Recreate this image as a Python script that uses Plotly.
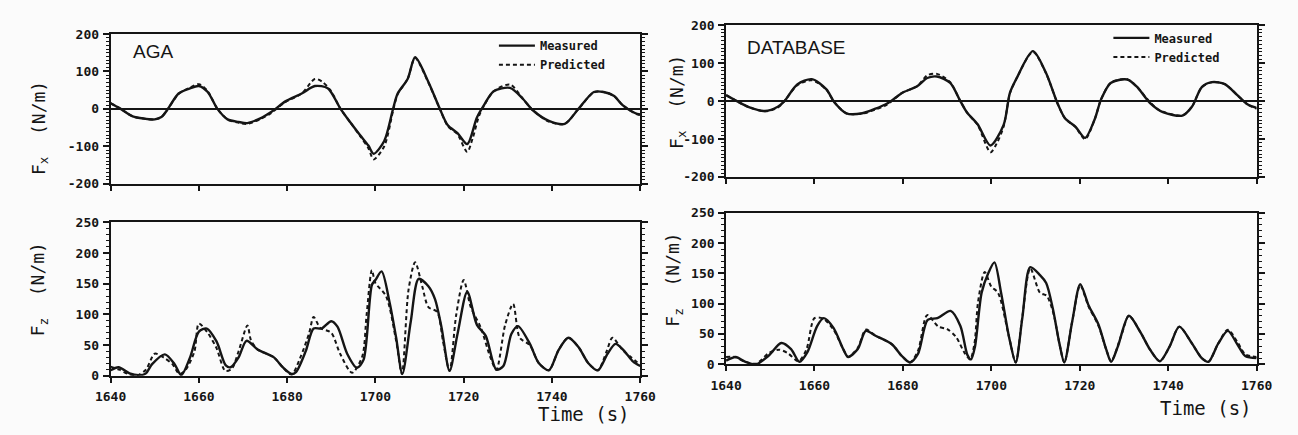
import plotly.graph_objects as go

# ---------------- data ----------------
# AGA, Fx
aga_fx_meas_t = [1640, 1642, 1645, 1647.5, 1650, 1651.5, 1653, 1655.4, 1658, 1660, 1662, 1664.2, 1666.5, 1669, 1671,
                 1673.8, 1676.8, 1679.6, 1683.3, 1686.3, 1689.2, 1692.1, 1694.3, 1696.5, 1698.4, 1699.6, 1702, 1704,
                 1705, 1707.3, 1709, 1712, 1714.6, 1716.4, 1718.6, 1720.8, 1723, 1724.6, 1726.8, 1730.5, 1733.4,
                 1735.6, 1739.3, 1742.9, 1746, 1749.5, 1751.7, 1754, 1756, 1758.8, 1760]
aga_fx_meas = [15, 2, -20, -26, -28, -22, 0, 41, 55, 61, 45, 0, -28, -35, -38,
               -26, -5, 20, 41, 61, 55, 0, -36, -70, -98, -120, -86, 0,
               40, 80, 138, 72, 0, -44, -65, -94, -23, 10, 47, 56, 27,
               -3, -32, -40, 0, 45, 45, 35, 10, -11, -15]
aga_fx_pred_t = [1640, 1642, 1645, 1647.5, 1650, 1651.5, 1653, 1655.4, 1658, 1660, 1662, 1664.2, 1666.5, 1669, 1671,
                 1673.8, 1676, 1679.6, 1683.3, 1686.3, 1688, 1689.8, 1692.1, 1694.3, 1696.5, 1698.4, 1699.6, 1702,
                 1704, 1705, 1707.3, 1709, 1712, 1714.6, 1716.4, 1718.6, 1720.8, 1722, 1723.5, 1724.6, 1726.8,
                 1730.5, 1733.4, 1735.6, 1739.3, 1742.9, 1746, 1749.5, 1751.7, 1754, 1756, 1758.8, 1760]
aga_fx_pred = [15, 2, -20, -26, -28, -22, 0, 40, 57, 66, 47, 0, -28, -37, -40,
               -28, -14, 18, 41, 80, 72, 50, 0, -36, -72, -105, -135, -100,
               -5, 38, 80, 136, 70, 0, -46, -68, -115, -80, -18, 8, 47,
               65, 27, -3, -34, -40, 0, 44, 45, 35, 10, -12, -17]

# AGA, Fz
aga_fz_meas_t = [1640, 1641.8, 1644.3, 1646.5, 1648, 1649.4, 1652.3, 1654.5, 1656, 1658, 1660, 1661.8, 1664, 1666.1,
                 1667.2, 1669, 1670.8, 1673.3, 1677, 1679, 1681, 1682, 1684.2, 1686, 1687.8, 1690, 1691.4, 1693.6,
                 1695.8, 1697.3, 1699.2, 1700, 1701.4, 1703.2, 1704.7, 1706.1, 1708, 1709.8, 1712, 1713.5, 1715,
                 1716.8, 1718.6, 1720.8, 1723, 1725, 1727.4, 1729, 1730.8, 1732.3, 1735, 1737, 1739.3, 1741.5,
                 1743.7, 1746, 1748.2, 1750.4, 1752.6, 1754.4, 1756.2, 1758.4, 1760]
aga_fz_meas = [9, 14, 4, 1, 4, 19, 35, 19, 1, 30, 72, 77, 56, 17,
               14, 30, 57, 43, 30, 14, 3, 6, 40, 77, 77, 89, 80, 36,
               13, 26, 148, 156, 170, 120, 62, 3, 88, 158, 146, 125, 78,
               8, 68, 137, 83, 65, 10, 16, 68, 81, 52, 21, 9, 42,
               62, 47, 21, 9, 36, 52, 42, 23, 16]
aga_fz_pred_t = [1640, 1642, 1644, 1646, 1648, 1650, 1652, 1654, 1655.6, 1657, 1659, 1660, 1662, 1664, 1666,
                 1667.5, 1669, 1671, 1671.8, 1673.3, 1677, 1679, 1681, 1683, 1685, 1686, 1687.5, 1690, 1692,
                 1694.7, 1697, 1698, 1699.2, 1700, 1702.4, 1704.7, 1706, 1707.5, 1709, 1710.6, 1712, 1714,
                 1715.3, 1716.8, 1718.3, 1720, 1721.6, 1723.9, 1726, 1727.4, 1729.4, 1731.2, 1732.7, 1735, 1737,
                 1739.3, 1741.5, 1743.7, 1746, 1748.2, 1750.4, 1752.4, 1753.7, 1756, 1758, 1760]
aga_fz_pred = [15, 10, 3, 1, 10, 36, 30, 19, 3, 10, 40, 85, 70, 45, 8,
               12, 40, 82, 58, 43, 30, 14, 2, 30, 70, 96, 78, 70, 36,
               5, 31, 99, 172, 151, 130, 57, 3, 140, 185, 146, 112, 104,
               57, 8, 99, 156, 112, 78, 31, 10, 83, 117, 62, 50, 21,
               9, 42, 62, 47, 21, 9, 40, 62, 42, 30, 18]

# DATABASE, Fx
db_fx_meas_t = [1640, 1642.9, 1645, 1648.8, 1651.7, 1653.2, 1656.1, 1659.4, 1662.7, 1664.5, 1667.2, 1670.8, 1673.8,
                1676, 1677.5, 1679.7, 1683.3, 1685.5, 1687.7, 1690.7, 1692.9, 1694.5, 1696.9, 1699.8, 1702.8,
                1704.2, 1705.7, 1709.4, 1712.3, 1714.9, 1716.7, 1719, 1721.2, 1723.4, 1724.8, 1727, 1730.7,
                1732.9, 1735.9, 1738.8, 1743.2, 1745.4, 1747.6, 1749.9, 1752.8, 1755.7, 1758, 1760]
db_fx_meas = [16, -3, -15, -26, -15, 0, 44, 58, 31, -3, -32, -32, -20,
              -9, 2, 21, 40, 61, 65, 48, 2, -30, -61, -117, -62,
              22, 60, 132, 76, -4, -46, -67, -97, -47, 4, 48, 57,
              38, -5, -29, -38, -14, 37, 50, 45, 15, -9, -18]
db_fx_pred_t = [1640, 1642.9, 1645, 1648.8, 1651.7, 1653.2, 1656.1, 1659.4, 1662.7, 1664.5, 1667.2, 1670.8, 1673.8,
                1676, 1677.5, 1679.7, 1683.3, 1685.5, 1687.7, 1690.7, 1692.9, 1694.5, 1696.9, 1699.8, 1701.2,
                1702.8, 1704.2, 1705.7, 1709.4, 1712.3, 1714.9, 1716.7, 1719, 1721.2, 1723.4, 1724.8, 1727,
                1730.7, 1732.9, 1735.9, 1737.5, 1738.8, 1743.2, 1745.4, 1747.6, 1749.9, 1752.8, 1755.7, 1758, 1760]
db_fx_pred = [16, -3, -15, -27, -17, 0, 42, 55, 30, -3, -32, -33, -22,
              -12, 0, 21, 40, 68, 72, 50, 2, -30, -63, -135, -112,
              -66, 20, 60, 130, 75, -4, -46, -68, -100, -47, 4, 48,
              58, 38, -3, -20, -28, -38, -14, 37, 50, 45, 15, -9, -20]

# DATABASE, Fz
db_fz_meas_t = [1640, 1642.2, 1644.4, 1646.8, 1649.6, 1652.5, 1654.7, 1656.6, 1658.4, 1660.6, 1662.1, 1664.3, 1666.5,
                1667.6, 1669.8, 1671.6, 1673.8, 1677.5, 1679.7, 1681.6, 1683.4, 1685.6, 1687.8, 1690.8, 1693,
                1694.6, 1695.4, 1696.3, 1697.8, 1699.3, 1700.7, 1702.2, 1704, 1705.5, 1707, 1708.8, 1711, 1712.4,
                1713.9, 1715.4, 1716.5, 1718.3, 1720.1, 1722, 1724.2, 1726, 1727.1, 1728.6, 1731.1, 1733.7,
                1735.9, 1738.1, 1740.3, 1742.5, 1745.4, 1747.6, 1749.1, 1751.3, 1753.5, 1755.7, 1757.5, 1760]
db_fz_meas = [6, 12, 4, 0, 14, 35, 25, 4, 20, 63, 76, 60, 25,
              12, 25, 55, 47, 33, 14, 3, 17, 73, 76, 88, 63,
              15, 8, 29, 118, 150, 168, 118, 45, 3, 76, 160, 147, 134,
              92, 34, 3, 71, 132, 97, 66, 24, 4, 29, 80, 53,
              24, 5, 29, 62, 34, 10, 4, 34, 55, 32, 13, 10]
db_fz_pred_t = [1640, 1642, 1644, 1646.8, 1649.6, 1652, 1654, 1656.4, 1658.2, 1660, 1662, 1664.3, 1666.5,
                1667.6, 1669.8, 1671.6, 1673.8, 1677.5, 1679.7, 1681.6, 1683.4, 1685.5, 1688, 1690, 1692,
                1694, 1695.2, 1696.2, 1697, 1698.5, 1700, 1701.5, 1704, 1705.5, 1707, 1708.8, 1711, 1712.5,
                1714, 1715.4, 1716.5, 1718.3, 1720.1, 1722, 1724.2, 1726, 1727.1, 1729.5, 1731.1, 1733.7,
                1735.9, 1738.1, 1740.3, 1742.5, 1745.4, 1747.6, 1749.1, 1751.3, 1753.5, 1755.7, 1757.5, 1760]
db_fz_pred = [12, 12, 5, 1, 18, 24, 18, 5, 25, 76, 75, 57, 25,
              12, 27, 57, 47, 33, 14, 3, 22, 81, 62, 58, 45,
              18, 8, 35, 103, 152, 128, 118, 45, 3, 78, 158, 118, 113,
              85, 34, 3, 71, 130, 95, 64, 24, 5, 50, 80, 53,
              24, 5, 29, 62, 34, 10, 4, 34, 57, 36, 16, 12]

time_ticks = [1640, 1660, 1680, 1700, 1720, 1740, 1760]
time_labels = ["1640", "1660", "1680", "1700", "1720", "1740", "1760"]
fx_ticks = [-200, -100, 0, 100, 200]
fx_labels = ["-200", "-100", "0", "100", "200"]
fz_ticks = [0, 50, 100, 150, 200, 250]
fz_labels = ["0", "50", "100", "150", "200", "250"]
panel_names = ["AGA", "DATABASE"]
series_names = ["Measured", "Predicted"]

# ---------------- figure ----------------
W, H = 1298, 435
INK = "#151515"
MONO = "DejaVu Sans Mono"

def px(x):
    return x / W

def py(y):
    return 1 - y / H

fig = go.Figure()

panels = [
    ("x", "y", aga_fx_meas_t, aga_fx_meas, aga_fx_pred_t, aga_fx_pred, "legend"),
    ("x2", "y2", aga_fz_meas_t, aga_fz_meas, aga_fz_pred_t, aga_fz_pred, None),
    ("x3", "y3", db_fx_meas_t, db_fx_meas, db_fx_pred_t, db_fx_pred, "legend2"),
    ("x4", "y4", db_fz_meas_t, db_fz_meas, db_fz_pred_t, db_fz_pred, None),
]
for xa, ya, mt, mv, pt, pv, leg in panels:
    fig.add_trace(go.Scatter(
        x=mt, y=mv, xaxis=xa, yaxis=ya, mode="lines", name=series_names[0],
        line=dict(color=INK, width=2.4, shape="spline", smoothing=0.8),
        showlegend=leg is not None, legend=leg or "legend"))
    fig.add_trace(go.Scatter(
        x=pt, y=pv, xaxis=xa, yaxis=ya, mode="lines", name=series_names[1],
        line=dict(color=INK, width=2.0, dash="4px,3px", shape="spline", smoothing=0.8),
        showlegend=leg is not None, legend=leg or "legend"))

tickfont = dict(family=MONO, size=13, color=INK, weight="bold")

def xaxis(domain, anchor, labels):
    return dict(domain=domain, anchor=anchor, range=[1640, 1760], tickvals=time_ticks,
                ticktext=time_labels, showticklabels=labels, ticks="outside", ticklen=5,
                tickwidth=1.5, tickcolor=INK, showline=True, linecolor=INK, linewidth=1.8,
                mirror=True, showgrid=False, zeroline=False, tickfont=tickfont, ticklabelstandoff=3)

def yaxis(domain, anchor, rng, tv, tt, minor_dt, zl):
    return dict(domain=domain, anchor=anchor, range=rng, tickvals=tv, ticktext=tt,
                ticks="outside", ticklen=6, tickwidth=1.5, tickcolor=INK,
                minor=dict(dtick=minor_dt, ticks="outside", ticklen=3, tickwidth=1.2, tickcolor=INK),
                showline=True, linecolor=INK, linewidth=1.8, mirror="allticks",
                showgrid=False, zeroline=zl, zerolinecolor=INK, zerolinewidth=1.6,
                tickfont=tickfont, ticklabelstandoff=1)

LX = [px(97), px(640)]
RX = [px(728), px(1272)]

fig.update_layout(
    width=W, height=H,
    margin=dict(l=0, r=0, t=0, b=0),
    paper_bgcolor="#fbfbfb", plot_bgcolor="#fbfbfb",
    xaxis=xaxis(LX, "y", False),
    yaxis=yaxis([py(183), py(28)], "x", [-200, 200], fx_ticks, fx_labels, 10, True),
    xaxis2=xaxis(LX, "y2", True),
    yaxis2=yaxis([py(382), py(223)], "x2", [0, 250], fz_ticks, fz_labels, 10, False),
    xaxis3=xaxis(RX, "y3", False),
    yaxis3=yaxis([py(176), py(19)], "x3", [-200, 200], fx_ticks, fx_labels, 10, True),
    xaxis4=xaxis(RX, "y4", True),
    yaxis4=yaxis([py(370), py(213)], "x4", [0, 250], fz_ticks, fz_labels, 10, False),
    legend=dict(x=px(490), y=py(25), xanchor="left", yanchor="top", bgcolor="rgba(0,0,0,0)",
                font=dict(family=MONO, size=12, color=INK, weight="bold"), tracegroupgap=0,
                itemwidth=36),
    legend2=dict(x=px(1120), y=py(17), xanchor="left", yanchor="top", bgcolor="rgba(0,0,0,0)",
                 font=dict(family=MONO, size=12, color=INK, weight="bold"), tracegroupgap=0,
                 itemwidth=36),
)

ann = []
ann.append(dict(text=panel_names[0], x=px(118), y=py(46), xanchor="left", yanchor="middle",
                font=dict(family="Liberation Sans", size=19, color=INK)))
ann.append(dict(text=panel_names[1], x=px(747), y=py(42), xanchor="left", yanchor="middle",
                font=dict(family="Liberation Sans", size=19, color=INK)))
for xc, yc in [(24, 125), (678, 98)]:
    ann.append(dict(text="F<sub>x</sub>  (N/m)", x=px(xc), y=py(yc), textangle=-90,
                    xanchor="center", yanchor="middle", font=dict(family=MONO, size=18, color=INK)))
for xc, yc in [(24, 292), (675, 282)]:
    ann.append(dict(text="F<sub>z</sub>  (N/m)", x=px(xc), y=py(yc), textangle=-90,
                    xanchor="center", yanchor="middle", font=dict(family=MONO, size=18, color=INK)))
ann.append(dict(text="Time (s)", x=px(582), y=py(422), xanchor="center", yanchor="middle",
                font=dict(family=MONO, size=19, color=INK)))
ann.append(dict(text="Time (s)", x=px(1220), y=py(415), xanchor="center", yanchor="middle",
                font=dict(family=MONO, size=19, color=INK)))
for a in ann:
    a.update(xref="paper", yref="paper", showarrow=False)
fig.update_layout(annotations=ann)

fig.write_html("out.html")
